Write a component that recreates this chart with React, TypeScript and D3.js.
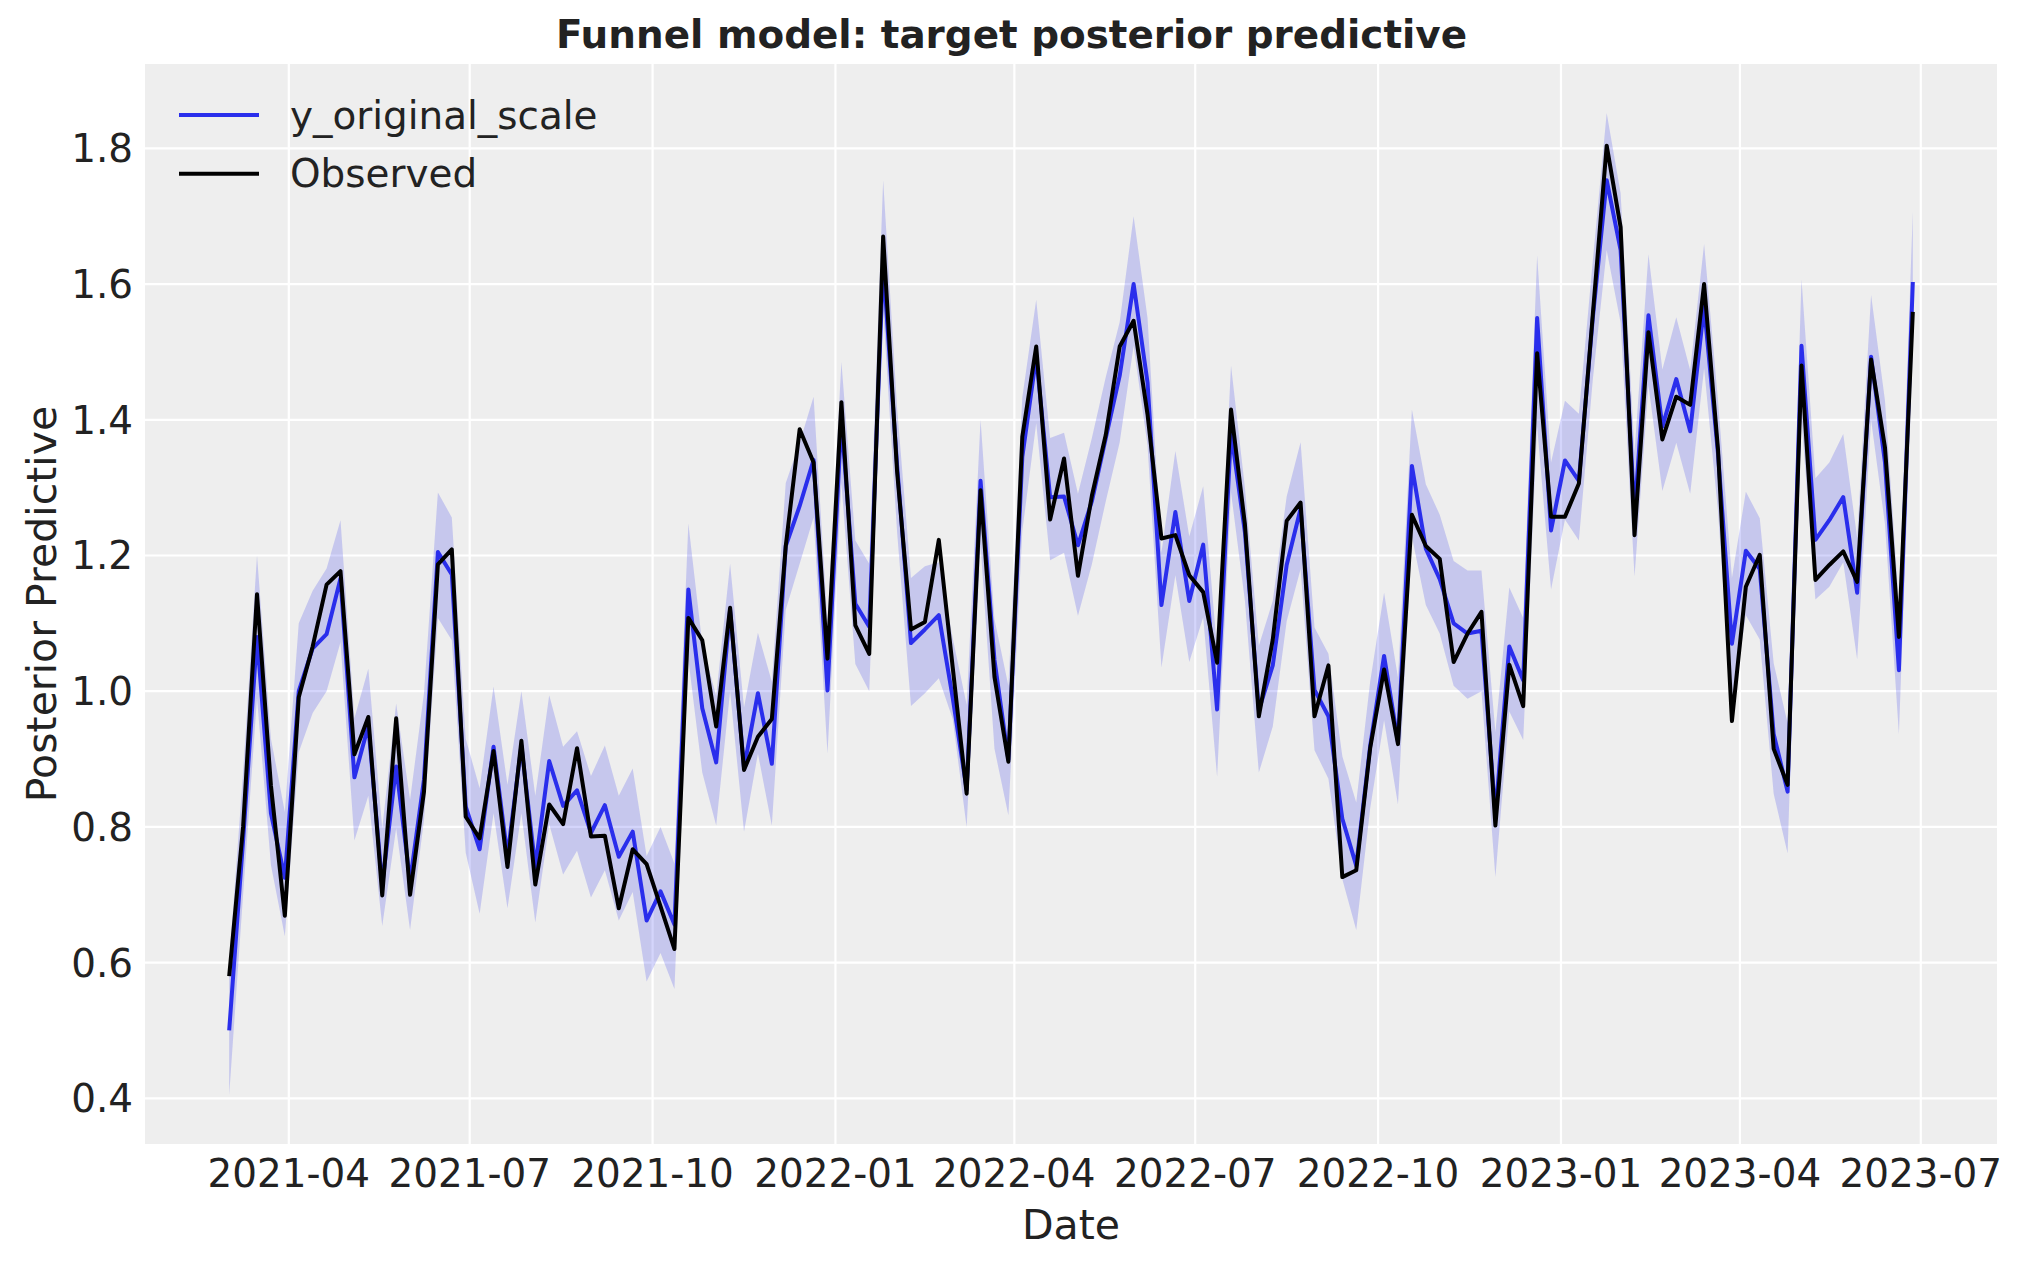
import React, { useEffect, useRef } from "react";
import * as d3 from "d3";

// weekly observations starting 2021-03-02
const START_DATE = "2021-03-02";

// posterior predictive mean (y_original_scale)
const predMean: number[] = [
  0.5, 0.78, 1.08, 0.82, 0.725, 1.0, 1.063, 1.084, 1.166, 0.873,
  0.949, 0.714, 0.889, 0.72, 0.87, 1.205, 1.172, 0.83, 0.767, 0.918,
  0.757, 0.92, 0.741, 0.897, 0.831, 0.854, 0.791, 0.832, 0.756, 0.793,
  0.662, 0.705, 0.656, 1.15, 0.975, 0.895, 1.12, 0.887, 0.997, 0.893,
  1.214, 1.273, 1.341, 1.001, 1.4, 1.129, 1.095, 1.63, 1.333, 1.071,
  1.091, 1.112, 0.99, 0.855, 1.31, 1.046, 0.899, 1.345, 1.493, 1.286,
  1.287, 1.215, 1.28, 1.373, 1.465, 1.6, 1.455, 1.127, 1.264, 1.133,
  1.216, 0.973, 1.382, 1.234, 0.972, 1.038, 1.186, 1.269, 1.002, 0.963,
  0.812, 0.743, 0.919, 1.052, 0.925, 1.332, 1.21, 1.165, 1.1, 1.085,
  1.089, 0.818, 1.066, 1.016, 1.55, 1.237, 1.34, 1.31, 1.55, 1.753,
  1.65, 1.26, 1.554, 1.39, 1.46, 1.383, 1.567, 1.35, 1.07, 1.207,
  1.18, 0.937, 0.852, 1.509, 1.223, 1.252, 1.286, 1.145, 1.493, 1.337,
  1.031, 1.603,
];

// observed target
const observed: number[] = [
  0.58, 0.8, 1.143, 0.861, 0.669, 0.991, 1.066, 1.157, 1.177, 0.907,
  0.962, 0.699, 0.96, 0.7, 0.852, 1.187, 1.209, 0.815, 0.783, 0.912,
  0.741, 0.927, 0.715, 0.833, 0.804, 0.916, 0.786, 0.787, 0.68, 0.767,
  0.745, 0.683, 0.62, 1.108, 1.075, 0.948, 1.123, 0.884, 0.933, 0.959,
  1.214, 1.386, 1.337, 1.048, 1.426, 1.097, 1.055, 1.67, 1.324, 1.091,
  1.102, 1.223, 1.035, 0.849, 1.296, 1.021, 0.896, 1.375, 1.508, 1.253,
  1.343, 1.17, 1.288, 1.378, 1.508, 1.546, 1.408, 1.225, 1.23, 1.171,
  1.146, 1.042, 1.415, 1.246, 0.963, 1.076, 1.251, 1.278, 0.963, 1.038,
  0.726, 0.736, 0.916, 1.032, 0.922, 1.26, 1.214, 1.195, 1.043, 1.085,
  1.117, 0.802, 1.039, 0.978, 1.498, 1.257, 1.257, 1.306, 1.555, 1.804,
  1.684, 1.23, 1.529, 1.371, 1.434, 1.422, 1.6, 1.356, 0.956, 1.154,
  1.201, 0.915, 0.862, 1.48, 1.164, 1.186, 1.206, 1.161, 1.489, 1.359,
  1.08, 1.559,
];

// HDI band upper edge
const hdiUpper: number[] = [
  0.6, 0.88, 1.2, 0.93, 0.822, 1.1, 1.148, 1.181, 1.252, 0.96,
  1.033, 0.798, 0.982, 0.84, 0.997, 1.293, 1.256, 0.93, 0.857, 1.007,
  0.862, 1.0, 0.846, 0.994, 0.918, 0.941, 0.875, 0.92, 0.846, 0.886,
  0.757, 0.8, 0.746, 1.247, 1.07, 0.993, 1.188, 0.976, 1.086, 1.014,
  1.307, 1.366, 1.434, 1.1, 1.485, 1.222, 1.188, 1.753, 1.418, 1.167,
  1.184, 1.19, 1.078, 0.98, 1.4, 1.106, 1.008, 1.433, 1.577, 1.373,
  1.381, 1.291, 1.373, 1.463, 1.544, 1.7, 1.55, 1.204, 1.354, 1.228,
  1.302, 1.061, 1.48, 1.3, 1.067, 1.133, 1.287, 1.367, 1.094, 1.055,
  0.904, 0.836, 1.014, 1.145, 1.02, 1.415, 1.305, 1.26, 1.192, 1.178,
  1.178, 0.94, 1.153, 1.108, 1.642, 1.337, 1.428, 1.409, 1.634, 1.852,
  1.734, 1.352, 1.644, 1.474, 1.551, 1.473, 1.659, 1.428, 1.167, 1.294,
  1.255, 1.041, 0.953, 1.607, 1.314, 1.337, 1.379, 1.226, 1.584, 1.428,
  1.128, 1.707,
];

// HDI band lower edge
const hdiLower: number[] = [
  0.405, 0.7, 0.99, 0.744, 0.639, 0.91, 0.968, 1.0, 1.072, 0.78,
  0.846, 0.654, 0.798, 0.648, 0.81, 1.108, 1.075, 0.762, 0.672, 0.82,
  0.68, 0.82, 0.659, 0.804, 0.73, 0.765, 0.696, 0.736, 0.662, 0.704,
  0.572, 0.614, 0.561, 1.047, 0.88, 0.802, 1.0, 0.793, 0.908, 0.802,
  1.12, 1.188, 1.256, 0.908, 1.307, 1.04, 1.0, 1.562, 1.235, 0.978,
  0.997, 1.019, 0.959, 0.8, 1.215, 0.915, 0.817, 1.236, 1.395, 1.193,
  1.204, 1.111, 1.187, 1.28, 1.367, 1.509, 1.362, 1.035, 1.171, 1.043,
  1.109, 0.874, 1.293, 1.133, 0.88, 0.948, 1.103, 1.18, 0.913, 0.871,
  0.723, 0.648, 0.827, 0.957, 0.833, 1.228, 1.127, 1.085, 1.008, 0.989,
  1.0, 0.726, 0.97, 0.928, 1.39, 1.15, 1.253, 1.222, 1.459, 1.65,
  1.543, 1.169, 1.451, 1.295, 1.366, 1.291, 1.476, 1.265, 0.972, 1.112,
  1.076, 0.849, 0.761, 1.4, 1.135, 1.154, 1.19, 1.047, 1.4, 1.246,
  0.937, 1.5,
];

const yTicks = [0.4, 0.6, 0.8, 1.0, 1.2, 1.4, 1.6, 1.8];
const legendItems = [
  { label: "y_original_scale", color: "#2a2eec" },
  { label: "Observed", color: "#000000" },
];

interface Row {
  date: Date;
  mean: number;
  obs: number;
  lo: number;
  hi: number;
}

const WIDTH = 2023;
const HEIGHT = 1267;
const FONT = "'DejaVu Sans', sans-serif";
const TEXT = "#222222";
const LINE_W = 4;

const App: React.FC = () => {
  const svgRef = useRef<SVGSVGElement | null>(null);

  useEffect(() => {
    const start = d3.timeParse("%Y-%m-%d")(START_DATE)!;
    const rows: Row[] = predMean.map((m, i) => ({
      date: d3.timeDay.offset(start, 7 * i),
      mean: m,
      obs: observed[i],
      lo: hdiLower[i],
      hi: hdiUpper[i],
    }));

    const margin = { top: 64, right: 26, bottom: 123, left: 145 };
    const innerW = WIDTH - margin.left - margin.right;
    const innerH = HEIGHT - margin.top - margin.bottom;

    const svg = d3.select(svgRef.current);
    svg.selectAll("*").remove();
    svg.attr("width", WIDTH).attr("height", HEIGHT);

    // matplotlib-like 5% margins
    const [t0, t1] = d3.extent(rows, (d) => d.date) as [Date, Date];
    const tPad = (t1.getTime() - t0.getTime()) * 0.05;
    const xScale = d3
      .scaleTime()
      .domain([new Date(t0.getTime() - tPad), new Date(t1.getTime() + tPad)])
      .range([0, innerW]);

    const yMin = d3.min(rows, (d) => Math.min(d.lo, d.mean, d.obs))!;
    const yMax = d3.max(rows, (d) => Math.max(d.hi, d.mean, d.obs))!;
    const yPad = (yMax - yMin) * 0.05;
    const yScale = d3
      .scaleLinear()
      .domain([yMin - yPad, yMax + yPad])
      .range([innerH, 0]);

    const g = svg
      .append("g")
      .attr("transform", `translate(${margin.left}, ${margin.top})`);

    // background
    g.append("rect")
      .attr("width", innerW)
      .attr("height", innerH)
      .attr("fill", "#eeeeee");

    const xTicks = xScale.ticks(d3.timeMonth.every(3)!);

    // grid
    g.selectAll(".vgrid")
      .data(xTicks)
      .enter()
      .append("line")
      .attr("x1", (d) => xScale(d))
      .attr("x2", (d) => xScale(d))
      .attr("y1", 0)
      .attr("y2", innerH)
      .attr("stroke", "#ffffff")
      .attr("stroke-width", 2.2);

    g.selectAll(".hgrid")
      .data(yTicks)
      .enter()
      .append("line")
      .attr("x1", 0)
      .attr("x2", innerW)
      .attr("y1", (d) => yScale(d))
      .attr("y2", (d) => yScale(d))
      .attr("stroke", "#ffffff")
      .attr("stroke-width", 2.2);

    // HDI band
    const area = d3
      .area<Row>()
      .x((d) => xScale(d.date))
      .y0((d) => yScale(d.lo))
      .y1((d) => yScale(d.hi));

    g.append("path")
      .datum(rows)
      .attr("d", area)
      .attr("fill", "#2a2eec")
      .attr("fill-opacity", 0.2)
      .attr("stroke", "none");

    const meanLine = d3
      .line<Row>()
      .x((d) => xScale(d.date))
      .y((d) => yScale(d.mean));

    const obsLine = d3
      .line<Row>()
      .x((d) => xScale(d.date))
      .y((d) => yScale(d.obs));

    g.append("path")
      .datum(rows)
      .attr("d", meanLine)
      .attr("fill", "none")
      .attr("stroke", "#2a2eec")
      .attr("stroke-width", LINE_W)
      .attr("stroke-linejoin", "round");

    g.append("path")
      .datum(rows)
      .attr("d", obsLine)
      .attr("fill", "none")
      .attr("stroke", "#000000")
      .attr("stroke-width", LINE_W)
      .attr("stroke-linejoin", "round");

    // y tick labels
    g.selectAll(".ytick")
      .data(yTicks)
      .enter()
      .append("text")
      .attr("x", -12)
      .attr("y", (d) => yScale(d))
      .attr("dy", "0.36em")
      .attr("text-anchor", "end")
      .style("font-family", FONT)
      .style("font-size", "38.9px")
      .style("fill", TEXT)
      .text((d) => d3.format(".1f")(d));

    // x tick labels
    const fmt = d3.timeFormat("%Y-%m");
    g.selectAll(".xtick")
      .data(xTicks)
      .enter()
      .append("text")
      .attr("x", (d) => xScale(d))
      .attr("y", innerH + 43)
      .attr("text-anchor", "middle")
      .style("font-family", FONT)
      .style("font-size", "38.9px")
      .style("fill", TEXT)
      .text((d) => fmt(d));

    // axis labels
    g.append("text")
      .attr("x", innerW / 2)
      .attr("y", innerH + 95)
      .attr("text-anchor", "middle")
      .style("font-family", FONT)
      .style("font-size", "41px")
      .style("fill", TEXT)
      .text("Date");

    g.append("text")
      .attr("transform", `translate(${56 - margin.left}, ${innerH / 2}) rotate(-90)`)
      .attr("text-anchor", "middle")
      .style("font-family", FONT)
      .style("font-size", "41px")
      .style("fill", TEXT)
      .text("Posterior Predictive");

    // figure title
    svg
      .append("text")
      .attr("x", WIDTH / 2)
      .attr("y", 48)
      .attr("text-anchor", "middle")
      .style("font-family", FONT)
      .style("font-size", "38.9px")
      .style("font-weight", "bold")
      .style("fill", TEXT)
      .text("Funnel model: target posterior predictive");

    // legend
    const legend = g.append("g").attr("transform", `translate(34, 51)`);
    legendItems.forEach((item, i) => {
      const row = legend.append("g").attr("transform", `translate(0, ${i * 58.7})`);
      row
        .append("line")
        .attr("x1", 0)
        .attr("x2", 80)
        .attr("y1", 0)
        .attr("y2", 0)
        .attr("stroke", item.color)
        .attr("stroke-width", LINE_W);
      row
        .append("text")
        .attr("x", 111)
        .attr("y", 0)
        .attr("dy", "0.35em")
        .style("font-family", FONT)
        .style("font-size", "38.9px")
        .style("fill", TEXT)
        .text(item.label);
    });
  }, []);

  return (
    <div style={{ position: "absolute", left: 0, top: 0, background: "#ffffff" }}>
      <svg ref={svgRef} style={{ display: "block" }}></svg>
    </div>
  );
};

export default App;
